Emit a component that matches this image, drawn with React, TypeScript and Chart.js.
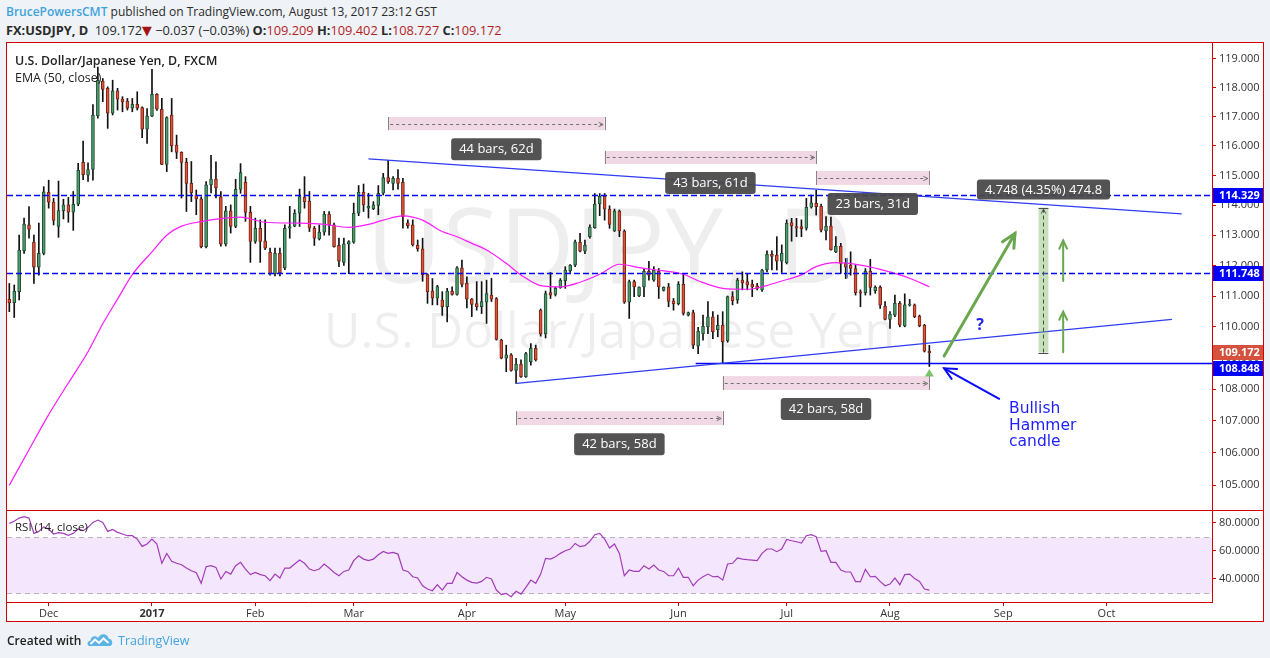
import React, { useEffect, useRef } from 'react';
import { Chart, registerables } from 'chart.js';

Chart.register(...registerables);

const FONT = '"Open Sans", "DejaVu Sans", sans-serif';
const RED = '#d00000';

// ---- daily candles, 23 Nov 2016 .. 11 Aug 2017 (bar index 0..187) ----
const opens = [
  110.89, 110.78, 111.14, 112.49, 113.34, 112.77, 111.94, 112.40, 114.43, 114.10,
  113.29, 113.82, 114.01, 113.77, 114.03, 115.44, 115.01, 115.20, 117.03, 118.23,
  117.98, 117.12, 117.89, 117.61, 117.54, 117.29, 117.43, 117.31, 116.57, 117.02,
  117.77, 117.25, 115.37, 117.06, 116.03, 115.78, 115.44, 114.73, 114.34, 114.21,
  112.62, 114.68, 114.88, 114.28, 112.70, 113.81, 113.29, 114.53, 114.77, 113.76,
  112.79, 113.23, 112.81, 112.43, 111.73, 112.40, 111.92, 113.23, 113.30, 113.73,
  114.27, 114.14, 113.23, 112.88, 113.10, 113.70, 113.34, 112.66, 112.10, 112.71,
  112.77, 113.73, 114.43, 113.90, 113.88, 113.99, 114.40, 114.93, 114.73, 114.90,
  114.77, 113.41, 113.34, 112.66, 112.55, 111.70, 111.16, 110.93, 110.87, 110.65,
  111.16, 111.05, 111.92, 111.41, 110.90, 110.75, 110.65, 110.80, 111.03, 110.92,
  109.57, 108.99, 109.10, 108.60, 108.80, 108.40, 108.88, 109.31, 110.54, 109.77,
  111.11, 111.05, 111.27, 111.50, 111.82, 112.01, 112.76, 112.47, 112.95, 113.25,
  114.04, 114.30, 113.87, 113.14, 113.80, 113.14, 110.80, 111.47, 111.00, 111.30,
  111.81, 111.52, 111.81, 111.18, 111.30, 110.84, 110.75, 111.38, 110.38, 110.46,
  109.38, 109.78, 110.00, 110.32, 109.91, 110.05, 109.55, 110.98, 110.87, 111.52,
  111.47, 111.38, 111.33, 111.20, 111.85, 112.37, 112.34, 112.14, 112.09, 113.42,
  113.29, 113.29, 113.23, 113.93, 114.06, 113.97, 113.14, 113.30, 112.45, 112.63,
  112.07, 112.01, 111.90, 111.14, 111.11, 111.81, 111.17, 111.28, 110.67, 110.24,
  110.38, 110.76, 110.03, 110.70, 110.71, 110.35, 110.05, 109.209,
];
const highs = [
  111.41, 111.36, 113.00, 113.57, 113.95, 113.00, 113.40, 114.62, 114.84, 114.23,
  114.81, 114.20, 114.26, 114.46, 115.41, 116.17, 115.43, 117.42, 118.72, 118.32,
  118.03, 118.26, 117.98, 117.69, 117.63, 117.63, 117.86, 117.34, 117.28, 118.64,
  117.80, 117.63, 117.00, 117.63, 116.37, 115.80, 115.58, 115.47, 114.51, 114.28,
  114.79, 115.68, 115.46, 114.46, 113.96, 114.01, 114.87, 115.40, 114.96, 113.96,
  113.57, 113.51, 113.51, 112.57, 112.57, 112.57, 113.34, 113.96, 113.85, 114.54,
  114.96, 114.46, 113.29, 113.34, 113.79, 113.79, 113.40, 112.90, 112.90, 112.82,
  114.07, 114.66, 114.71, 114.40, 114.12, 114.66, 115.07, 115.51, 114.96, 115.20,
  114.90, 113.51, 113.51, 112.84, 112.90, 111.73, 111.57, 111.35, 111.14, 111.25,
  111.30, 111.96, 112.18, 111.63, 110.92, 111.47, 111.47, 111.52, 111.58, 110.95,
  109.60, 109.41, 109.14, 108.99, 108.94, 109.18, 109.46, 109.41, 110.58, 111.16,
  111.77, 111.30, 111.57, 111.96, 112.03, 112.84, 113.06, 112.84, 113.34, 114.39,
  114.39, 114.39, 113.98, 113.87, 113.84, 113.18, 111.52, 111.52, 111.30, 111.90,
  112.14, 111.96, 111.90, 111.30, 111.41, 110.92, 111.47, 111.70, 110.48, 110.54,
  109.98, 110.38, 110.82, 110.49, 110.38, 110.49, 111.00, 111.14, 111.58, 111.79,
  111.74, 111.52, 111.41, 111.87, 112.48, 112.48, 112.95, 112.68, 113.51, 113.56,
  113.56, 113.51, 114.23, 114.34, 114.50, 114.04, 113.62, 113.60, 112.95, 112.73,
  112.23, 112.45, 112.01, 111.20, 111.90, 112.20, 111.33, 111.33, 110.82, 110.49,
  111.03, 110.82, 111.07, 110.89, 110.74, 110.38, 110.08, 109.402,
];
const lows = [
  110.49, 110.30, 110.87, 112.40, 112.90, 111.41, 111.68, 112.35, 113.90, 113.34,
  112.93, 113.54, 113.43, 113.16, 113.98, 114.86, 114.80, 114.84, 116.95, 117.52,
  116.60, 117.06, 117.23, 117.17, 117.23, 117.17, 117.23, 116.28, 116.09, 117.00,
  117.22, 115.36, 115.13, 115.80, 115.57, 114.24, 113.79, 114.12, 113.68, 112.58,
  112.58, 114.41, 114.24, 112.64, 112.64, 113.07, 113.25, 114.40, 113.46, 112.10,
  112.73, 112.10, 112.52, 111.68, 111.66, 111.66, 111.86, 112.90, 113.28, 113.29,
  113.90, 113.12, 112.66, 112.84, 113.00, 113.00, 112.60, 111.96, 112.00, 111.73,
  112.73, 113.65, 113.79, 113.57, 113.85, 113.68, 114.34, 114.73, 114.51, 114.54,
  113.23, 113.23, 112.64, 112.47, 111.48, 110.76, 110.71, 110.71, 110.37, 110.16,
  111.03, 111.03, 111.30, 110.61, 110.33, 110.54, 110.43, 110.11, 110.82, 109.57,
  108.97, 108.56, 108.58, 108.19, 108.38, 108.38, 108.77, 108.90, 109.70, 109.64,
  110.92, 111.00, 111.25, 111.25, 111.77, 111.96, 112.45, 112.39, 112.90, 113.23,
  113.65, 113.50, 113.23, 113.12, 112.95, 110.76, 110.27, 110.98, 110.98, 110.98,
  111.52, 111.48, 110.92, 111.16, 110.65, 110.54, 110.71, 110.38, 110.35, 109.30,
  109.14, 109.57, 109.78, 109.62, 109.68, 108.82, 109.50, 110.71, 110.76, 111.20,
  111.20, 110.98, 111.20, 111.15, 111.79, 111.85, 111.85, 111.77, 112.05, 112.80,
  112.95, 112.95, 113.17, 113.90, 113.67, 113.11, 112.84, 112.50, 112.42, 111.74,
  111.57, 111.68, 111.03, 110.65, 111.03, 111.03, 111.09, 110.60, 110.22, 109.95,
  110.33, 110.00, 110.00, 110.67, 110.30, 110.00, 109.19, 108.727,
];
const closes = [
  110.78, 111.16, 112.51, 113.37, 113.20, 111.94, 112.40, 114.45, 114.10, 113.49,
  113.82, 114.01, 113.77, 114.03, 115.17, 115.03, 115.20, 117.06, 118.26, 117.94,
  117.12, 117.89, 117.60, 117.52, 117.29, 117.43, 117.29, 116.57, 117.02, 117.77,
  117.26, 115.37, 116.97, 116.00, 115.78, 115.44, 114.73, 114.42, 114.21, 112.62,
  114.68, 114.88, 114.58, 112.70, 113.81, 113.29, 114.53, 115.10, 113.76, 112.79,
  113.23, 112.79, 112.57, 111.73, 112.40, 111.76, 113.23, 113.29, 113.73, 114.29,
  114.12, 113.23, 112.90, 113.10, 113.70, 113.34, 112.62, 112.14, 112.71, 112.79,
  113.73, 114.43, 114.01, 113.96, 114.01, 114.40, 114.93, 114.79, 114.90, 114.73,
  113.62, 113.32, 112.68, 112.55, 111.70, 111.14, 110.93, 111.31, 110.65, 111.16,
  111.05, 111.92, 111.38, 110.90, 110.73, 110.65, 110.82, 111.08, 110.90, 109.59,
  108.99, 109.10, 108.60, 108.80, 108.40, 109.14, 109.31, 108.94, 109.77, 111.08,
  111.03, 111.25, 111.52, 111.85, 112.01, 112.78, 112.47, 112.67, 113.27, 114.04,
  114.30, 113.87, 113.36, 113.80, 113.14, 110.80, 111.47, 111.30, 111.29, 111.81,
  111.68, 111.85, 111.30, 111.28, 110.82, 110.75, 111.38, 110.43, 110.46, 109.41,
  109.86, 110.02, 110.32, 109.84, 110.05, 109.52, 110.98, 110.85, 111.52, 111.43,
  111.36, 111.30, 111.25, 111.85, 112.37, 112.30, 112.14, 112.40, 113.40, 113.31,
  113.23, 113.22, 113.93, 114.08, 113.95, 113.17, 113.30, 112.52, 112.63, 112.07,
  111.94, 111.90, 111.11, 111.09, 111.81, 111.28, 111.28, 110.70, 110.24, 110.41,
  110.76, 110.05, 110.71, 110.74, 110.33, 110.03, 109.22, 109.172,
];

// ---- EMA(50, close) at these bars ----
const emaBars = [0, 4, 8, 12, 16, 19, 22, 25, 29, 32, 35, 39, 43, 47, 52, 59, 64, 69, 73, 76, 80, 82, 84, 88, 91,
  94, 97, 101, 104, 108, 112, 116, 120, 124, 128, 133, 137, 140, 145, 150, 153, 157, 161, 164, 168, 173, 177, 183, 187];
const emaValues = [105.0, 106.1, 107.2, 108.2, 109.2, 110.1, 110.9, 111.7, 112.45, 113.0, 113.3, 113.45, 113.55, 113.6,
  113.43, 113.4, 113.36, 113.26, 113.36, 113.5, 113.64, 113.6, 113.5, 113.12, 112.95, 112.73, 112.51, 112.07, 111.69,
  111.34, 111.3, 111.45, 111.71, 112.04, 111.93, 111.82, 111.71, 111.5, 111.25, 111.22, 111.3, 111.49, 111.69, 111.96,
  112.09, 112.01, 111.87, 111.58, 111.3];

// ---- RSI(14, close), one value per bar ----
const rsiValues = [
  79.5, 81, 83.3, 84.3, 83.3, 72.4, 73.8, 77, 75.5, 71.9,
  72.9, 72.4, 71, 72.4, 75.5, 74.3, 76.7, 80.2, 81.9, 80.2,
  73.8, 75.2, 73.1, 71.9, 70.7, 70.7, 68.3, 63.1, 64.8, 68.3,
  64.8, 51, 58.1, 52.4, 51, 50, 47.6, 45.7, 44.3, 36.7,
  48.6, 49.3, 48.1, 39.8, 45.2, 43.3, 49.3, 51.7, 46.9, 42.9,
  44.5, 42.9, 42.1, 38.6, 43.3, 40.5, 47.6, 47.6, 50.5, 53.3,
  51, 46.9, 45.7, 46.9, 50.5, 47.6, 44.5, 42.1, 45.2, 46.2,
  52.9, 56.4, 54, 52.9, 54, 57.1, 59.5, 58.1, 58.8, 57.6,
  46.2, 45.2, 41.4, 40.5, 35, 32.6, 31.4, 35.7, 31.9, 36.7,
  36.7, 44.5, 41.4, 39, 37.4, 36.9, 38.1, 41, 39.8, 31.9,
  28.6, 29.5, 27.1, 31, 29, 33.8, 39, 36.7, 43.3, 54.5,
  54, 55.7, 58.1, 60, 61.2, 65.2, 62.9, 63.6, 66.7, 71.4,
  72.4, 68.3, 61.9, 64.8, 58.1, 42.1, 46.2, 45.2, 45.2, 49.3,
  46.9, 49.8, 46.2, 45.2, 42.1, 42.1, 47.6, 41, 41, 35,
  39, 41.4, 43.3, 41.4, 41.7, 39, 50.5, 51, 54.8, 54,
  53.6, 53.3, 52.9, 58.1, 61.2, 61.2, 59.3, 61.2, 68.1, 67.1,
  66.4, 65.5, 70.7, 71.4, 70, 59.5, 60, 51.7, 51.7, 46.2,
  44.8, 44.8, 37.9, 37.9, 46.7, 41.4, 41.7, 38.1, 35, 36.2,
  40.5, 35.7, 42.9, 43.3, 40.2, 38.1, 32.6, 31.9,
];

// ---- axes ----
const monthTickBars = [8, 29, 50, 70, 93, 113, 136, 158, 179, 202, 223];
const monthTickLabels = ['Dec', '2017', 'Feb', 'Mar', 'Apr', 'May', 'Jun', 'Jul', 'Aug', 'Sep', 'Oct'];
const priceTicks = [105, 106, 107, 108, 109, 110, 111, 112, 113, 114, 115, 116, 117, 118, 119];
const rsiTicks = [40, 60, 80];
const X_MIN = -0.47;
const X_MAX = 244.45;
const P_MIN = 104.24;
const P_MAX = 119.56;
const RSI_MIN = 23.36;
const RSI_MAX = 88.36;

// ---- drawings (bar index, price) ----
const dashedLevels = [114.329, 111.748];
const supportLevel = 108.848;
const supportStartBar = 139.5;
const lastClose = 109.172;
const trendLines = [
  { from: [73.0, 115.56], to: [238.3, 113.71] },
  { from: [103.1, 108.19], to: [236.3, 110.24] },
];
const dateRanges = [
  { from: 77, to: 121, top: 116.99, bottom: 116.54, label: '44 bars, 62d' },
  { from: 121, to: 164, top: 115.83, bottom: 115.39, label: '43 bars, 61d' },
  { from: 164, to: 187, top: 115.15, bottom: 114.68, label: '23 bars, 31d' },
  { from: 103, to: 145, top: 107.31, bottom: 106.87, label: '42 bars, 58d' },
  { from: 145, to: 187, top: 108.42, bottom: 107.98, label: '42 bars, 58d' },
];
const priceRange = { from: 209.2, to: 211.2, low: 109.172, high: 113.92, label: '4.748 (4.35%) 474.8' };
const greenArrows = [
  { from: [190.0, 109.06], to: [204.4, 113.06], width: 3, head: 15 },
  { from: [214.2, 109.18], to: [214.2, 110.49], width: 2, head: 9 },
  { from: [214.2, 111.49], to: [214.2, 112.82], width: 2, head: 9 },
];
const blueArrow = { from: [201.2, 107.7], to: [190.0, 108.67] };
const questionMark = { bar: 197.3, price: 110.06, text: '?' };
const noteAnchor = { bar: 203.2, price: 107.41 };
const noteLines = ['Bullish', 'Hammer', 'candle'];
const hammerMarker = { bar: 187, price: 108.52 };
const cursorMark = { bar: 170.2, from: 112.25, to: 111.58 };
const watermarkSymbol = 'USDJPY, D';
const watermarkName = 'U.S. Dollar/Japanese Yen';

const UP_FILL = '#4d9c6c';
const UP_EDGE = '#1f4d33';
const DN_FILL = '#d9543a';
const DN_EDGE = '#7a2214';
const LEVEL_BLUE = '#0000ff';

function clipArea(ctx: CanvasRenderingContext2D, a: any) {
  ctx.beginPath();
  ctx.rect(a.left, a.top, a.right - a.left, a.bottom - a.top);
  ctx.clip();
}

function arrowHead(ctx: CanvasRenderingContext2D, x1: number, y1: number, x2: number, y2: number, len: number) {
  const ang = Math.atan2(y2 - y1, x2 - x1);
  const spread = 0.45;
  ctx.beginPath();
  ctx.moveTo(x2 - len * Math.cos(ang - spread), y2 - len * Math.sin(ang - spread));
  ctx.lineTo(x2, y2);
  ctx.lineTo(x2 - len * Math.cos(ang + spread), y2 - len * Math.sin(ang + spread));
  ctx.stroke();
}

function roundRect(ctx: CanvasRenderingContext2D, x: number, y: number, w: number, h: number, r: number) {
  ctx.beginPath();
  ctx.moveTo(x + r, y);
  ctx.lineTo(x + w - r, y);
  ctx.quadraticCurveTo(x + w, y, x + w, y + r);
  ctx.lineTo(x + w, y + h - r);
  ctx.quadraticCurveTo(x + w, y + h, x + w - r, y + h);
  ctx.lineTo(x + r, y + h);
  ctx.quadraticCurveTo(x, y + h, x, y + h - r);
  ctx.lineTo(x, y + r);
  ctx.quadraticCurveTo(x, y, x + r, y);
  ctx.closePath();
}

function darkLabel(ctx: CanvasRenderingContext2D, text: string, cx: number, top: number, h: number) {
  ctx.font = `13px ${FONT}`;
  const w = ctx.measureText(text).width + 16;
  ctx.fillStyle = 'rgba(72,72,72,0.94)';
  roundRect(ctx, cx - w / 2, top, w, h, 3);
  ctx.fill();
  ctx.fillStyle = '#ffffff';
  ctx.textAlign = 'center';
  ctx.textBaseline = 'middle';
  ctx.fillText(text, cx, top + h / 2 + 0.5);
}

const priceDecor = {
  id: 'priceDecor',
  beforeDatasetsDraw(chart: any) {
    const { ctx, chartArea: a } = chart;
    ctx.save();
    clipArea(ctx, a);
    const cx = (a.left + a.right) / 2;
    ctx.fillStyle = 'rgba(0,0,0,0.065)';
    ctx.textAlign = 'center';
    ctx.textBaseline = 'alphabetic';
    ctx.font = `104px ${FONT}`;
    ctx.fillText(watermarkSymbol, cx, a.top + 240);
    ctx.font = `50px ${FONT}`;
    ctx.fillText(watermarkName, cx, a.top + 305);
    ctx.restore();
  },
  afterDatasetsDraw(chart: any) {
    const { ctx, chartArea: a } = chart;
    const X = (b: number) => chart.scales.x.getPixelForValue(b);
    const Y = (p: number) => chart.scales.y.getPixelForValue(p);
    ctx.save();
    clipArea(ctx, a);

    // dashed horizontal levels
    ctx.strokeStyle = LEVEL_BLUE;
    ctx.lineWidth = 1.5;
    ctx.setLineDash([6, 3]);
    dashedLevels.forEach((lv) => {
      const y = Math.round(Y(lv)) + 0.5;
      ctx.beginPath();
      ctx.moveTo(a.left, y);
      ctx.lineTo(a.right, y);
      ctx.stroke();
    });
    ctx.setLineDash([]);

    // support ray
    ctx.lineWidth = 1.5;
    const ys = Math.round(Y(supportLevel)) + 0.5;
    ctx.beginPath();
    ctx.moveTo(X(supportStartBar), ys);
    ctx.lineTo(a.right, ys);
    ctx.stroke();

    // trend lines
    ctx.strokeStyle = '#2f3cf0';
    ctx.lineWidth = 1.2;
    trendLines.forEach((t) => {
      ctx.beginPath();
      ctx.moveTo(X(t.from[0]), Y(t.from[1]));
      ctx.lineTo(X(t.to[0]), Y(t.to[1]));
      ctx.stroke();
    });

    // small cursor mark
    ctx.strokeStyle = '#5b86e0';
    ctx.lineWidth = 1;
    ctx.beginPath();
    ctx.moveTo(Math.round(X(cursorMark.bar)) + 0.5, Y(cursorMark.from));
    ctx.lineTo(Math.round(X(cursorMark.bar)) + 0.5, Y(cursorMark.to));
    ctx.stroke();

    // date ranges
    dateRanges.forEach((r) => {
      const x1 = X(r.from);
      const x2 = X(r.to);
      const y1 = Y(r.top);
      const y2 = Y(r.bottom);
      ctx.fillStyle = 'rgba(196,110,152,0.26)';
      ctx.fillRect(x1, y1, x2 - x1, y2 - y1);
      ctx.strokeStyle = '#8f7f88';
      ctx.lineWidth = 1;
      ctx.beginPath();
      ctx.moveTo(Math.round(x1) + 0.5, y1);
      ctx.lineTo(Math.round(x1) + 0.5, y2);
      ctx.moveTo(Math.round(x2) + 0.5, y1);
      ctx.lineTo(Math.round(x2) + 0.5, y2);
      ctx.stroke();
      const ym = Math.round((y1 + y2) / 2) + 0.5;
      ctx.strokeStyle = '#6f6f6f';
      ctx.setLineDash([3, 3]);
      ctx.beginPath();
      ctx.moveTo(x1 + 2, ym);
      ctx.lineTo(x2 - 2, ym);
      ctx.stroke();
      ctx.setLineDash([]);
      arrowHead(ctx, x1, ym, x2 - 1.5, ym, 5);
      darkLabel(ctx, r.label, (x1 + x2) / 2, y2 + 8, 22);
    });

    // price range
    {
      const x1 = X(priceRange.from);
      const x2 = X(priceRange.to);
      const yt = Y(priceRange.high);
      const yb = Y(priceRange.low);
      ctx.fillStyle = 'rgba(120,180,95,0.42)';
      ctx.fillRect(x1, yt, x2 - x1, yb - yt);
      ctx.strokeStyle = '#4a4a4a';
      ctx.lineWidth = 1;
      ctx.beginPath();
      ctx.moveTo(x1, Math.round(yt) + 0.5);
      ctx.lineTo(x2, Math.round(yt) + 0.5);
      ctx.moveTo(x1, Math.round(yb) + 0.5);
      ctx.lineTo(x2, Math.round(yb) + 0.5);
      ctx.stroke();
      const xm = Math.round((x1 + x2) / 2) + 0.5;
      ctx.setLineDash([4, 3]);
      ctx.beginPath();
      ctx.moveTo(xm, yb);
      ctx.lineTo(xm, yt + 2);
      ctx.stroke();
      ctx.setLineDash([]);
      arrowHead(ctx, xm, yb, xm, yt + 1.5, 5);
      darkLabel(ctx, priceRange.label, (x1 + x2) / 2, yt - 28, 20);
    }

    // green arrows
    ctx.strokeStyle = '#6aa84f';
    ctx.lineCap = 'round';
    greenArrows.forEach((g) => {
      const xa = X(g.from[0]);
      const ya = Y(g.from[1]);
      const xb = X(g.to[0]);
      const yb = Y(g.to[1]);
      ctx.lineWidth = g.width;
      ctx.beginPath();
      ctx.moveTo(xa, ya);
      ctx.lineTo(xb, yb);
      ctx.stroke();
      arrowHead(ctx, xa, ya, xb, yb, g.head);
    });

    // blue arrow
    ctx.strokeStyle = '#0a0aff';
    ctx.lineWidth = 2;
    {
      const xa = X(blueArrow.from[0]);
      const ya = Y(blueArrow.from[1]);
      const xb = X(blueArrow.to[0]);
      const yb = Y(blueArrow.to[1]);
      ctx.beginPath();
      ctx.moveTo(xa, ya);
      ctx.lineTo(xb, yb);
      ctx.stroke();
      arrowHead(ctx, xa, ya, xb, yb, 13);
    }

    // texts
    ctx.fillStyle = '#2222ee';
    ctx.textAlign = 'center';
    ctx.textBaseline = 'middle';
    ctx.font = `bold 16px ${FONT}`;
    ctx.fillText(questionMark.text, X(questionMark.bar), Y(questionMark.price));
    ctx.fillStyle = '#1f1fff';
    ctx.textAlign = 'left';
    ctx.font = `15.5px "DejaVu Sans", sans-serif`;
    const nx = X(noteAnchor.bar);
    const ny = Y(noteAnchor.price);
    noteLines.forEach((t, k) => ctx.fillText(t, nx, ny + 1 + k * 16.5));

    // hammer marker
    {
      const mx = X(hammerMarker.bar);
      const my = Y(hammerMarker.price);
      ctx.fillStyle = '#7cc46b';
      ctx.beginPath();
      ctx.moveTo(mx, my - 4);
      ctx.lineTo(mx + 4.5, my + 3.5);
      ctx.lineTo(mx - 4.5, my + 3.5);
      ctx.closePath();
      ctx.fill();
    }
    ctx.restore();
  },
  afterDraw(chart: any) {
    const { ctx, chartArea: a, width } = chart;
    const Y = (p: number) => chart.scales.y.getPixelForValue(p);
    const tags = [
      { v: dashedLevels[0], c: LEVEL_BLUE },
      { v: dashedLevels[1], c: LEVEL_BLUE },
      { v: lastClose, c: '#d5503d' },
      { v: supportLevel, c: LEVEL_BLUE },
    ].map((t) => ({ ...t, y: Y(t.v) - 7.5 }))
      .sort((p, q) => p.y - q.y);
    for (let k = 1; k < tags.length; k++) {
      if (tags[k].y < tags[k - 1].y + 16) tags[k].y = tags[k - 1].y + 16;
    }
    ctx.save();
    tags.forEach((t) => {
      ctx.fillStyle = t.c;
      ctx.fillRect(a.right + 1, Math.round(t.y), width - a.right - 1, 15);
      ctx.fillStyle = '#ffffff';
      ctx.font = `bold 11px ${FONT}`;
      ctx.textAlign = 'left';
      ctx.textBaseline = 'middle';
      ctx.fillText(t.v.toFixed(3), a.right + 7, Math.round(t.y) + 8);
    });
    ctx.restore();
  },
};

const rsiDecor = {
  id: 'rsiDecor',
  beforeDatasetsDraw(chart: any) {
    const { ctx, chartArea: a } = chart;
    const Y = (v: number) => chart.scales.y.getPixelForValue(v);
    const y70 = Math.round(Y(70)) + 0.5;
    const y30 = Math.round(Y(30)) + 0.5;
    ctx.save();
    ctx.fillStyle = '#f4e6fc';
    ctx.fillRect(a.left, y70, a.right - a.left, y30 - y70);
    ctx.strokeStyle = '#b9b2bd';
    ctx.lineWidth = 1;
    ctx.setLineDash([5, 4]);
    [y70, y30].forEach((y) => {
      ctx.beginPath();
      ctx.moveTo(a.left, y);
      ctx.lineTo(a.right, y);
      ctx.stroke();
    });
    ctx.restore();
  },
};

function PriceChart() {
  const ref = useRef<HTMLCanvasElement | null>(null);
  useEffect(() => {
    const canvas = ref.current;
    if (!canvas) return;
    const idx = opens.map((_, i) => i);
    const up = idx.map((i) => closes[i] >= opens[i]);
    const chart = new Chart(canvas, {
      type: 'bar',
      data: {
        datasets: [
          {
            type: 'line',
            data: emaBars.map((b, k) => ({ x: b, y: emaValues[k] })),
            borderColor: '#ff1aff',
            borderWidth: 1.2,
            pointRadius: 0,
            cubicInterpolationMode: 'monotone',
            order: 1,
          } as any,
          {
            type: 'bar',
            data: idx.map((i) => ({ x: i, y: [opens[i], closes[i]] })),
            backgroundColor: up.map((u) => (u ? UP_FILL : DN_FILL)),
            borderColor: up.map((u) => (u ? UP_EDGE : DN_EDGE)),
            borderWidth: 1,
            borderSkipped: false,
            barThickness: 3,
            minBarLength: 1,
            grouped: false,
            order: 2,
          } as any,
          {
            type: 'bar',
            data: idx.map((i) => ({ x: i, y: [lows[i], highs[i]] })),
            backgroundColor: '#111111',
            barThickness: 1,
            grouped: false,
            order: 3,
          } as any,
        ],
      },
      options: {
        animation: false,
        responsive: false,
        devicePixelRatio: 1,
        events: [],
        layout: { padding: 0, autoPadding: false },
        plugins: { legend: { display: false }, tooltip: { enabled: false } },
        scales: {
          x: { type: 'linear', min: X_MIN, max: X_MAX, display: false, offset: false },
          y: {
            type: 'logarithmic',
            position: 'right',
            min: P_MIN,
            max: P_MAX,
            afterBuildTicks: (s: any) => {
              s.ticks = priceTicks.map((v) => ({ value: v }));
            },
            afterFit: (s: any) => {
              s.width = 51;
              s.paddingTop = 0;
              s.paddingBottom = 0;
            },
            ticks: {
              autoSkip: false,
              padding: 3,
              color: '#333333',
              font: { size: 11, family: FONT },
              callback: (v: any) => Number(v).toFixed(3),
            },
            grid: { drawOnChartArea: false, drawTicks: true, tickLength: 4, color: RED },
            border: { display: true, color: RED, width: 1 },
          },
        },
      } as any,
      plugins: [priceDecor as any],
    });
    return () => chart.destroy();
  }, []);
  return <canvas ref={ref} width={1256} height={467} style={{ display: 'block' }} />;
}

function RsiChart() {
  const ref = useRef<HTMLCanvasElement | null>(null);
  useEffect(() => {
    const canvas = ref.current;
    if (!canvas) return;
    const chart = new Chart(canvas, {
      type: 'line',
      data: {
        datasets: [
          {
            data: rsiValues.map((v, i) => ({ x: i, y: v })),
            borderColor: '#a23cb8',
            borderWidth: 1.2,
            pointRadius: 0,
            tension: 0,
          },
        ],
      },
      options: {
        animation: false,
        responsive: false,
        devicePixelRatio: 1,
        events: [],
        layout: { padding: 0, autoPadding: false },
        plugins: { legend: { display: false }, tooltip: { enabled: false } },
        scales: {
          x: {
            type: 'linear',
            min: X_MIN,
            max: X_MAX,
            afterBuildTicks: (s: any) => {
              s.ticks = monthTickBars.map((v) => ({ value: v }));
            },
            afterFit: (s: any) => {
              s.height = 18;
              s.paddingLeft = 0;
              s.paddingRight = 0;
            },
            ticks: {
              autoSkip: false,
              maxRotation: 0,
              padding: 1,
              color: '#333333',
              font: (c: any) => ({ family: FONT, size: 11, weight: c.index === 1 ? 'bold' : 'normal' }),
              callback: (_v: any, i: number) => monthTickLabels[i],
            },
            grid: { drawOnChartArea: false, drawTicks: true, tickLength: 4, color: RED },
            border: { display: true, color: RED, width: 1 },
          },
          y: {
            type: 'linear',
            position: 'right',
            min: RSI_MIN,
            max: RSI_MAX,
            afterBuildTicks: (s: any) => {
              s.ticks = rsiTicks.map((v) => ({ value: v }));
            },
            afterFit: (s: any) => {
              s.width = 51;
              s.paddingTop = 0;
              s.paddingBottom = 0;
            },
            ticks: {
              autoSkip: false,
              padding: 3,
              color: '#333333',
              font: { size: 11, family: FONT },
              callback: (v: any) => Number(v).toFixed(4),
            },
            grid: { drawOnChartArea: false, drawTicks: true, tickLength: 4, color: RED },
            border: { display: true, color: RED, width: 1 },
          },
        },
      } as any,
      plugins: [rsiDecor as any],
    });
    return () => chart.destroy();
  }, []);
  return <canvas ref={ref} width={1256} height={109} style={{ display: 'block' }} />;
}

const abs = (left: number, top: number, extra: React.CSSProperties = {}): React.CSSProperties => ({
  position: 'absolute',
  left,
  top,
  whiteSpace: 'nowrap',
  ...extra,
});

const valRed = { color: '#b41e1e' };

export default function App() {
  return (
    <div
      style={{
        position: 'fixed',
        left: 0,
        top: 0,
        width: 1270,
        height: 658,
        background: '#eff2f6',
        fontFamily: FONT,
        color: '#2a2a2a',
        overflow: 'hidden',
      }}
    >
      <div style={abs(6, 4, { fontSize: 12, lineHeight: '16px' })}>
        <span style={{ color: '#3ea3dc', fontWeight: 600 }}>BrucePowersCMT</span>
        <span> published on TradingView.com, August 13, 2017 23:12 GST</span>
      </div>
      <div style={abs(6, 22, { fontSize: 12.8, lineHeight: '16px' })}>
        <b>FX:USDJPY, D</b>
        <span>&nbsp; 109.172</span>
        <span style={{ color: '#a01414' }}>▼</span>
        <span> −0.037 (−0.03%) </span>
        <b>O:</b><span style={valRed}>109.209</span> <b>H:</b><span style={valRed}>109.402</span>{' '}
        <b>L:</b><span style={valRed}>108.727</span> <b>C:</b><span style={valRed}>109.172</span>
      </div>

      <div
        style={{
          position: 'absolute',
          left: 6,
          top: 42,
          width: 1256,
          height: 578,
          border: `1px solid ${RED}`,
          background: '#ffffff',
        }}
      />
      <div style={abs(7, 43)}>
        <PriceChart />
      </div>
      <div style={abs(7, 510, { width: 1256, height: 1, background: RED })} />
      <div style={abs(7, 511)}>
        <RsiChart />
      </div>

      <div style={abs(15, 53, { fontSize: 12.4, lineHeight: '16px', fontWeight: 600, color: '#222' })}>
        U.S. Dollar/Japanese Yen, D, FXCM
      </div>
      <div style={abs(15, 70, { fontSize: 12.4, lineHeight: '16px', color: '#222' })}>EMA (50, close)</div>
      <div style={abs(15, 519, { fontSize: 11.5, lineHeight: '16px', color: '#222' })}>RSI (14, close)</div>

      <div style={abs(7, 633, { fontSize: 12, lineHeight: '16px', fontWeight: 600, color: '#222' })}>Created with</div>
      <svg style={abs(87, 632)} width={26} height={15} viewBox="0 0 26 15">
        <path d="M2.5 14 C-0.5 14 0 8.5 3.5 8.8 C3.5 4 9 3 11 6 C13 0.5 21 1 21.8 6.8 C26 6.8 26.5 14 22.5 14 Z" fill="#5ab4e5" />
        <polyline points="3.5,12 8,7.5 12,11 16.5,6.5 21.5,11" stroke="#ffffff" strokeWidth={2} fill="none" />
      </svg>
      <div style={abs(118, 633, { fontSize: 12.5, lineHeight: '16px', color: '#45a3df' })}>TradingView</div>
    </div>
  );
}
